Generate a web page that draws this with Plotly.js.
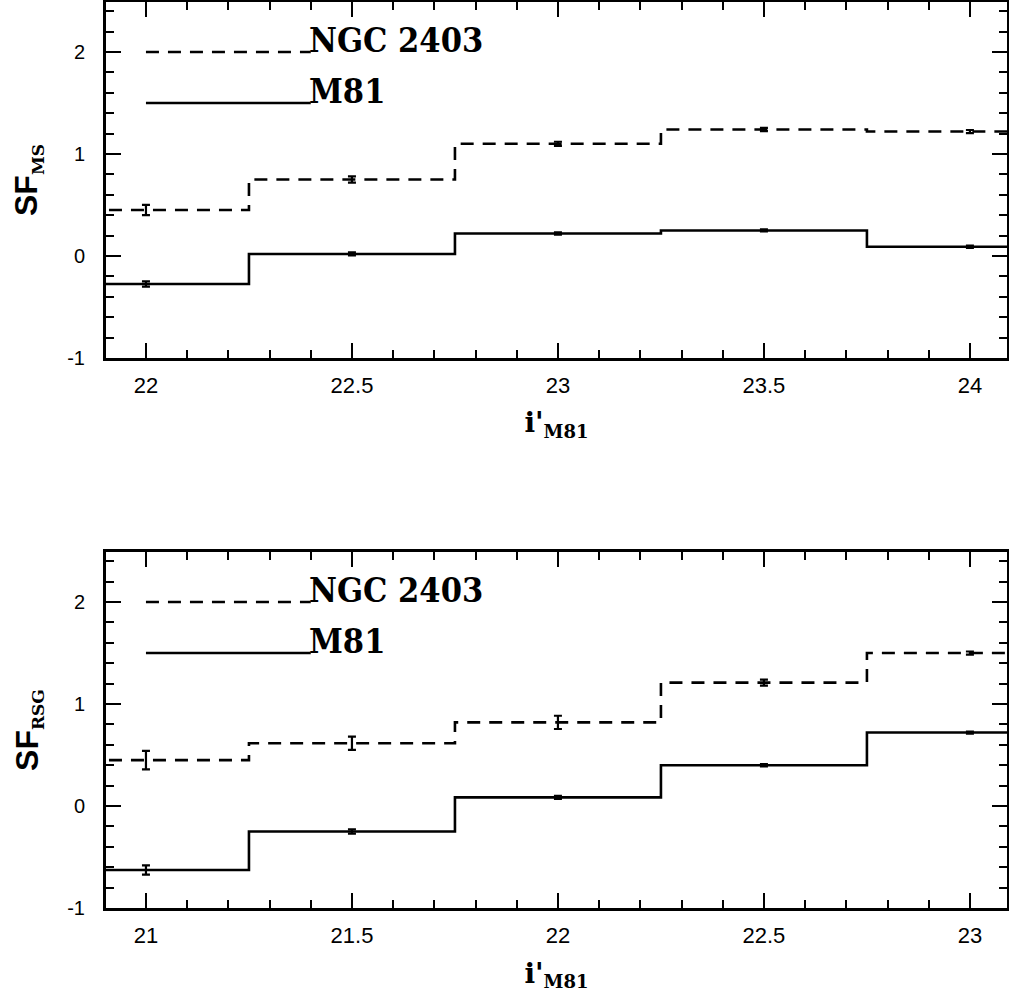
<!DOCTYPE html>
<html>
<head>
<meta charset="utf-8">
<script src="https://cdn.plot.ly/plotly-3.0.1.min.js"></script>
<style>html,body{margin:0;padding:0;background:#fff;}</style>
</head>
<body>
<div id="chart" style="width:1009px;height:1005px;"></div>
<script>
// ---- data ----
// top panel (SF_MS)
const msMag = [22, 22.5, 23, 23.5, 24];
const msNGC = [0.45, 0.75, 1.10, 1.24, 1.22];
const msNGCerr = [0.05, 0.03, 0.02, 0.015, 0.015];
const msM81 = [-0.275, 0.02, 0.22, 0.25, 0.09];
const msM81err = [0.025, 0.015, 0.012, 0.01, 0.012];
// bottom panel (SF_RSG)
const rsgMag = [21, 21.5, 22, 22.5, 23];
const rsgNGC = [0.45, 0.615, 0.82, 1.21, 1.50];
const rsgNGCerr = [0.09, 0.065, 0.065, 0.03, 0.015];
const rsgM81 = [-0.627, -0.25, 0.085, 0.40, 0.72];
const rsgM81err = [0.045, 0.02, 0.015, 0.012, 0.01];
const seriesNames = ["NGC 2403", "M81"];
// y tick labels (plain hyphen minus as in the reference)
const yTickVals = [-1, 0, 1, 2];
const yTickText = ["-1", "0", "1", "2"];

const binWidth = 0.5;

function stepXY(centers, vals) {
  const xs = centers.map(c => c - binWidth / 2);
  xs.push(centers[centers.length - 1] + binWidth / 2);
  const ys = vals.slice();
  ys.push(vals[vals.length - 1]);
  return {x: xs, y: ys};
}

const dashStyle = "13px,9px";
const lw = 2.6;

function panel(centers, ngc, ngcErr, m81, m81Err, xa, ya) {
  const s1 = stepXY(centers, ngc);
  const s2 = stepXY(centers, m81);
  return [
    {x: s1.x, y: s1.y, xaxis: xa, yaxis: ya, mode: "lines", line: {shape: "hv", color: "#000", width: lw, dash: dashStyle}, hoverinfo: "skip"},
    {x: s2.x, y: s2.y, xaxis: xa, yaxis: ya, mode: "lines", line: {shape: "hv", color: "#000", width: lw}, hoverinfo: "skip"},
    {x: centers, y: ngc, xaxis: xa, yaxis: ya, mode: "markers", marker: {size: 1, color: "#000"},
     error_y: {type: "data", array: ngcErr, visible: true, color: "#000", thickness: 2.2, width: 4}},
    {x: centers, y: m81, xaxis: xa, yaxis: ya, mode: "markers", marker: {size: 1, color: "#000"},
     error_y: {type: "data", array: m81Err, visible: true, color: "#000", thickness: 2.2, width: 4}}
  ];
}

const data = [].concat(
  panel(msMag, msNGC, msNGCerr, msM81, msM81err, "x", "y"),
  panel(rsgMag, rsgNGC, rsgNGCerr, rsgM81, rsgM81err, "x2", "y2")
);

const tickFont = {family: "Liberation Sans, Arial, sans-serif", size: 22, color: "#000"};
const yTickFont = {family: "Liberation Sans, Arial, sans-serif", size: 20, color: "#000"};

function xAxis(range, anchor) {
  return {
    range: range, domain: [0, 1], anchor: anchor,
    showgrid: false, zeroline: false,
    showline: true, linecolor: "#000", linewidth: 3, mirror: "allticks",
    ticks: "inside", ticklen: 15, tickwidth: 2, tickcolor: "#000",
    dtick: 0.5,
    minor: {ticks: "inside", ticklen: 8, tickwidth: 2, tickcolor: "#000", dtick: 0.1, showgrid: false},
    tickfont: tickFont, ticklabelstandoff: 6,
    title: {text: "<b>i'</b><sub><span style='font-size:18px'><b>M81</b></span></sub>", font: {family: "DejaVu Serif, serif", size: 28, color: "#000"}, standoff: 16}
  };
}
function yAxis(domain, anchor, sub) {
  return {
    range: [-1, 2.49], domain: domain, anchor: anchor,
    showgrid: false, zeroline: false,
    showline: true, linecolor: "#000", linewidth: 3, mirror: "allticks",
    ticks: "inside", ticklen: 15, tickwidth: 2, tickcolor: "#000",
    tickmode: "array", tickvals: yTickVals, ticktext: yTickText,
    minor: {ticks: "inside", ticklen: 8, tickwidth: 2, tickcolor: "#000", dtick: 0.2, tick0: 0, showgrid: false},
    tickfont: yTickFont, ticklabelstandoff: 14,
    title: {text: "<b>SF</b><sub><span style='font-family:DejaVu Serif;font-size:17px'><b>" + sub + "</b></span></sub>",
            font: {family: "Liberation Sans, Arial, sans-serif", size: 32, color: "#000"}, standoff: 20}
  };
}

// legend key geometry in data units
function legendShapes(xref, yref, x0, x1) {
  return [
    {type: "line", xref: xref, yref: yref, x0: x0, x1: x1, y0: 2, y1: 2, line: {color: "#000", width: lw, dash: dashStyle}},
    {type: "line", xref: xref, yref: yref, x0: x0, x1: x1, y0: 1.5, y1: 1.5, line: {color: "#000", width: lw}}
  ];
}
function legendText(xref, yref, x) {
  const f = {family: "DejaVu Serif Condensed, DejaVu Serif, serif", size: 34, color: "#000", weight: "bold"};
  return [
    {xref: xref, yref: yref, x: x, y: 2, text: seriesNames[0], showarrow: false, xanchor: "left", yanchor: "bottom", font: f, xshift: -4, yshift: -10},
    {xref: xref, yref: yref, x: x, y: 1.5, text: seriesNames[1], showarrow: false, xanchor: "left", yanchor: "bottom", font: f, xshift: -4, yshift: -10}
  ];
}

const layout = {
  width: 1009, height: 1005,
  margin: {l: 106, r: 2, t: 2, b: 97},
  paper_bgcolor: "#fff", plot_bgcolor: "#fff",
  showlegend: false,
  xaxis: xAxis([21.903, 24.09], "y"),
  yaxis: yAxis([0.6071, 1], "x", "MS"),
  xaxis2: xAxis([20.903, 23.09], "y2"),
  yaxis2: yAxis([0, 0.3929], "x2", "RSG"),
  shapes: [].concat(legendShapes("x", "y", 22, 22.4), legendShapes("x2", "y2", 21, 21.4)),
  annotations: [].concat(legendText("x", "y", 22.4), legendText("x2", "y2", 21.4))
};

Plotly.newPlot("chart", data, layout, {displayModeBar: false, staticPlot: true});
</script>
</body>
</html>
